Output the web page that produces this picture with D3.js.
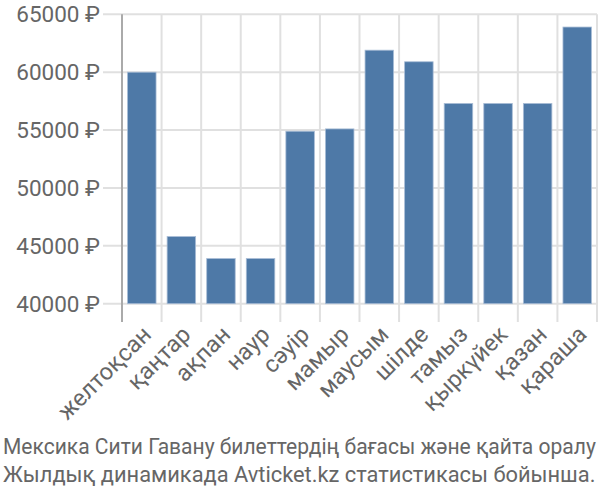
<!DOCTYPE html>
<html><head><meta charset="utf-8">
<script src="https://cdn.jsdelivr.net/npm/d3@7"></script>
<style>body{margin:0;background:#fff}svg{display:block}text{font-family:Roboto,"Liberation Sans",sans-serif;fill:#666}</style>
</head><body>
<script>
const categories = ["желтоқсан","қаңтар","ақпан","наур","сәуір","мамыр","маусым","шілде","тамыз","қыркүйек","қазан","қараша"];
const prices = [60000,45800,43900,43900,54900,55100,61900,60900,57300,57300,57300,63900];
const yTicks = [40000,45000,50000,55000,60000,65000];
const captionLines = ["Мексика Сити Гавану билеттердің бағасы және қайта оралу","Жылдық динамикада Avticket.kz статистикасы бойынша."];

(function(){
const W=600,H=500,mL=122,mR=597,mT=14.3,mB=303.7;
const svg=d3.select("body").append("svg").attr("width",W).attr("height",H);
const x=d3.scaleBand().domain(categories).range([mL,mR]).paddingInner(0.28).paddingOuter(0.14);
const y=d3.scaleLinear().domain([40000,65000]).range([mB,mT]);
const bw=(mR-mL)/categories.length;

svg.append("g").selectAll("line").data(yTicks).join("line")
 .attr("x1",103).attr("x2",mR).attr("y1",d=>y(d)).attr("y2",d=>y(d))
 .attr("stroke","#e0e0e0").attr("stroke-width",2);
svg.append("g").selectAll("line").data(d3.range(categories.length+1)).join("line")
 .attr("x1",i=>mL+i*bw).attr("x2",i=>mL+i*bw).attr("y1",mT).attr("y2",322)
 .attr("stroke",(i)=>i===0?"#aaa":"#e0e0e0").attr("stroke-width",2);

svg.append("g").selectAll("rect").data(prices).join("rect")
 .attr("x",(d,i)=>x(categories[i])).attr("width",x.bandwidth())
 .attr("y",d=>y(d)).attr("height",d=>mB-y(d))
 .attr("fill","#4e79a7").attr("stroke","#a9bdd6").attr("stroke-width",0.8);

svg.append("g").selectAll("text").data(yTicks).join("text")
 .attr("x",100).attr("y",d=>y(d)).attr("dy","0.35em").attr("text-anchor","end")
 .attr("font-size",22.5).text(d=>d+" ₽");

svg.append("g").selectAll("text").data(categories).join("text")
 .attr("transform",d=>`translate(${x(d)+x.bandwidth()/2+5},${330}) rotate(-45)`)
 .attr("text-anchor","end").attr("dy","0.35em").attr("font-size",23.5).text(d=>d);

const target=593;
svg.append("g").selectAll("text").data(captionLines).join("text")
 .attr("font-size",22).text(d=>d)
 .each(function(d,i){
   const w=this.getComputedTextLength();
   const s=Math.min(1,target/w);
   d3.select(this).attr("transform",`translate(3,${454.3+i*27.4}) scale(${s},1)`);
 });
})();
</script>
</body></html>
